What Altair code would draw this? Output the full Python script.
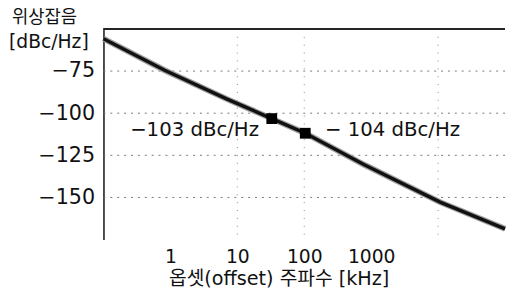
import altair as alt
import pandas as pd

# ---- data ----
freq_khz = [0.1, 0.82, 6.9, 32.7, 103.5, 789, 10700, 100000]
noise_dbc = [-55.8, -74.5, -91.5, -103.2, -111.9, -130.6, -152.8, -168.6]
marker_freq = [32.7, 103.5]
marker_noise = [-103.2, -111.9]
marker_labels = ["−103 dBc/Hz", "− 104 dBc/Hz"]
x_tick_values = [1, 10, 100, 1000]
x_grid_values = [10, 100, 10000]
y_tick_values = [-75, -100, -125, -150]
x_title = "옵셋(offset) 주파수 [kHz]"
y_title_lines = ["위상잡음", "[dBc/Hz]"]

W, H = 408, 214
FONT = "DejaVu Sans"
KFONT = "DejaVu Sans, Noto Sans CJK KR"

xs = alt.Scale(type="log", domain=[0.1, 100000], nice=False)
ys = alt.Scale(domain=[-175, -50], nice=False, zero=False)

line_df = pd.DataFrame({"f": freq_khz, "n": noise_dbc})
mk_df = pd.DataFrame({"f": marker_freq, "n": marker_noise, "t": marker_labels})
vgrid_df = pd.DataFrame({"f": x_grid_values})
hgrid_df = pd.DataFrame({"n": y_tick_values})

x_axis = alt.Axis(
    values=x_tick_values, format="d", title=x_title, grid=False, domain=False, ticks=False,
    labelFont=FONT, labelFontSize=19, labelColor="#111", labelPadding=8,
    titleFont=KFONT, titleFontSize=19.5, titleFontWeight="normal", titleColor="#111",
    titleX=178, titleY=40, titleAlign="center", titleBaseline="middle",
)
y_axis = alt.Axis(
    values=y_tick_values, title=None, grid=False, domain=True, ticks=False,
    domainColor="#111", domainWidth=1.5,
    labelFont=FONT, labelFontSize=21, labelColor="#111", labelPadding=9,
)

X = alt.X("f:Q", scale=xs, axis=x_axis)
Y = alt.Y("n:Q", scale=ys, axis=y_axis)

hgrid = alt.Chart(hgrid_df).mark_rule(color="#777", strokeWidth=1, strokeDash=[2, 5]).encode(y=Y)
vgrid = alt.Chart(vgrid_df).mark_rule(color="#888", strokeWidth=1, strokeDash=[1, 7]).encode(x=X)
top_border = alt.Chart(vgrid_df).mark_rule(color="#222", strokeWidth=1.5).encode(
    x=alt.value(0), x2=alt.value(W), y=alt.value(0)
)

base = alt.Chart(line_df)
halo = base.mark_line(color="#a0a0a0", strokeWidth=6).encode(x=X, y=Y)
core = base.mark_line(color="#111", strokeWidth=3.5).encode(x=X, y=Y)
markers = alt.Chart(mk_df).mark_square(size=120, color="#000", opacity=1).encode(x=X, y=Y)
lab1 = alt.Chart(mk_df.iloc[[0]]).mark_text(
    align="right", baseline="middle", dx=-13, dy=12, font=FONT, fontSize=20, color="#111"
).encode(x=X, y=Y, text="t:N")
lab2 = alt.Chart(mk_df.iloc[[1]]).mark_text(
    align="left", baseline="middle", dx=20, dy=-3, font=FONT, fontSize=20, color="#111"
).encode(x=X, y=Y, text="t:N")

t1 = alt.Chart(pd.DataFrame({"t": [y_title_lines[0]]})).mark_text(
    align="left", baseline="middle", font=KFONT, fontSize=18, color="#111"
).encode(text="t:N", x=alt.value(-93), y=alt.value(-11))
t2 = alt.Chart(pd.DataFrame({"t": [y_title_lines[1]]})).mark_text(
    align="left", baseline="middle", font=FONT, fontSize=19, color="#111"
).encode(text="t:N", x=alt.value(-96), y=alt.value(13))

chart = alt.layer(
    hgrid, vgrid, top_border, halo, core, markers, lab1, lab2, t1, t2
).properties(
    width=W, height=H,
    autosize=alt.AutoSizeParams(type="none"),
    padding={"left": 97, "top": 19, "right": 2, "bottom": 52},
    background="white",
).configure_view(strokeWidth=0)

chart.save("out.html", embed_options={"renderer": "svg", "actions": False})
